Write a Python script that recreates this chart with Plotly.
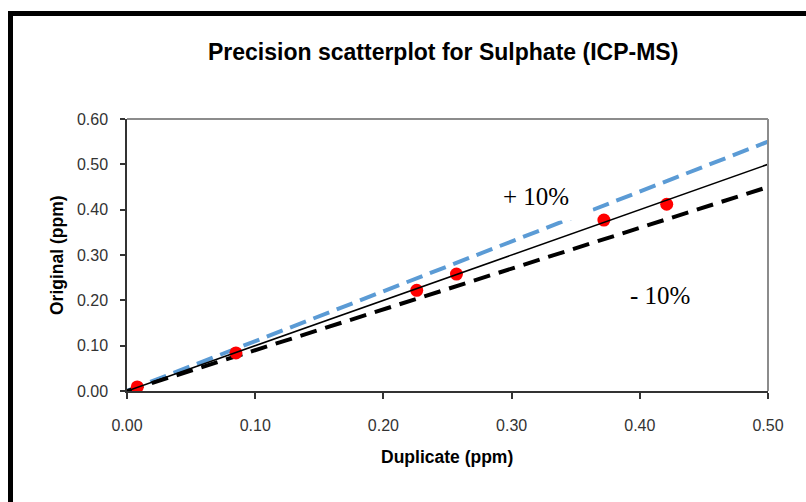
import plotly.graph_objects as go

# Data
duplicate = [0.008, 0.085, 0.226, 0.257, 0.372, 0.421]
original = [0.009, 0.084, 0.222, 0.258, 0.377, 0.412]
line_x = [0.0, 0.5]
line_equal = [0.0, 0.5]
line_plus10 = [0.0, 0.55]
line_minus10 = [0.0, 0.45]
tick_vals_x = [0.0, 0.1, 0.2, 0.3, 0.4, 0.5]
tick_vals_y = [0.0, 0.1, 0.2, 0.3, 0.4, 0.5, 0.6]

W, H = 806, 502
L, R, T, B = 127, 38, 119, 111
pw, ph = W - L - R, H - T - B

def px2paper_x(px):
    return (px - L) / pw

def px2paper_y(py):
    return (H - B - py) / ph

fig = go.Figure()
fig.add_trace(go.Scatter(x=line_x, y=line_plus10, mode="lines",
                         line=dict(color="#5B9BD5", width=4, dash="17px,8px"), showlegend=False))
fig.add_trace(go.Scatter(x=line_x, y=line_minus10, mode="lines",
                         line=dict(color="#000000", width=4, dash="17px,9px"), showlegend=False))
fig.add_trace(go.Scatter(x=duplicate, y=original, mode="markers",
                         marker=dict(color="#FF0000", size=13), showlegend=False))
fig.add_trace(go.Scatter(x=line_x, y=line_equal, mode="lines",
                         line=dict(color="#000000", width=1.6), showlegend=False))

tickfont = dict(family="Liberation Sans, Arial", size=16, color="#333333")
fig.update_xaxes(range=[0, 0.5], tickvals=tick_vals_x, tickformat=".2f",
                 showgrid=False, zeroline=False, showline=True, linecolor="#333333", linewidth=1.5,
                 ticks="outside", ticklen=6, tickcolor="#333333", tickwidth=1.5,
                 tickfont=tickfont, ticklabelstandoff=13)
fig.update_yaxes(range=[0, 0.6], tickvals=tick_vals_y, tickformat=".2f",
                 showgrid=False, zeroline=False, showline=True, linecolor="#333333", linewidth=1.5,
                 ticks="outside", ticklen=5, tickcolor="#333333", tickwidth=1.5,
                 tickfont=tickfont, ticklabelstandoff=9)

shapes = [
    # plot frame top/right (grey)
    dict(type="line", xref="paper", yref="paper", x0=0, x1=1, y0=1, y1=1,
         line=dict(color="#8C8C8C", width=2)),
    dict(type="line", xref="paper", yref="paper", x0=1, x1=1, y0=0, y1=1,
         line=dict(color="#8C8C8C", width=2)),
    # outer figure border (left and top)
    dict(type="line", xref="paper", yref="paper", x0=px2paper_x(10.5), x1=px2paper_x(10.5),
         y0=px2paper_y(11), y1=px2paper_y(520), line=dict(color="#000000", width=5)),
    dict(type="line", xref="paper", yref="paper", x0=px2paper_x(8), x1=px2paper_x(820),
         y0=px2paper_y(13.5), y1=px2paper_y(13.5), line=dict(color="#000000", width=5)),
]

annotations = [
    dict(text="<b>Precision scatterplot for Sulphate (ICP-MS)</b>", xref="paper", yref="paper",
         x=px2paper_x(443), y=px2paper_y(52), showarrow=False, xanchor="center", yanchor="middle",
         font=dict(family="Liberation Sans, Arial", size=23, color="#000000")),
    dict(text="<b>Duplicate (ppm)</b>", xref="paper", yref="paper",
         x=px2paper_x(447), y=px2paper_y(457), showarrow=False, xanchor="center", yanchor="middle",
         font=dict(family="Liberation Sans, Arial", size=17.5, color="#000000")),
    dict(text="<b>Original (ppm)</b>", xref="paper", yref="paper", textangle=-90,
         x=px2paper_x(57), y=px2paper_y(255), showarrow=False, xanchor="center", yanchor="middle",
         font=dict(family="Liberation Sans, Arial", size=17.5, color="#000000")),
    dict(text="+ 10%", xref="paper", yref="paper",
         x=px2paper_x(536), y=px2paper_y(196), showarrow=False, xanchor="center", yanchor="middle",
         width=112, height=48, bgcolor="#FFFFFF", borderpad=0,
         font=dict(family="Liberation Serif, Times New Roman", size=25, color="#000000")),
    dict(text="- 10%", xref="paper", yref="paper",
         x=px2paper_x(660), y=px2paper_y(295), showarrow=False, xanchor="center", yanchor="middle",
         font=dict(family="Liberation Serif, Times New Roman", size=25, color="#000000")),
]

fig.update_layout(width=W, height=H, margin=dict(l=L, r=R, t=T, b=B),
                  plot_bgcolor="#FFFFFF", paper_bgcolor="#FFFFFF",
                  shapes=shapes, annotations=annotations, showlegend=False)

fig.write_html("out.html")
